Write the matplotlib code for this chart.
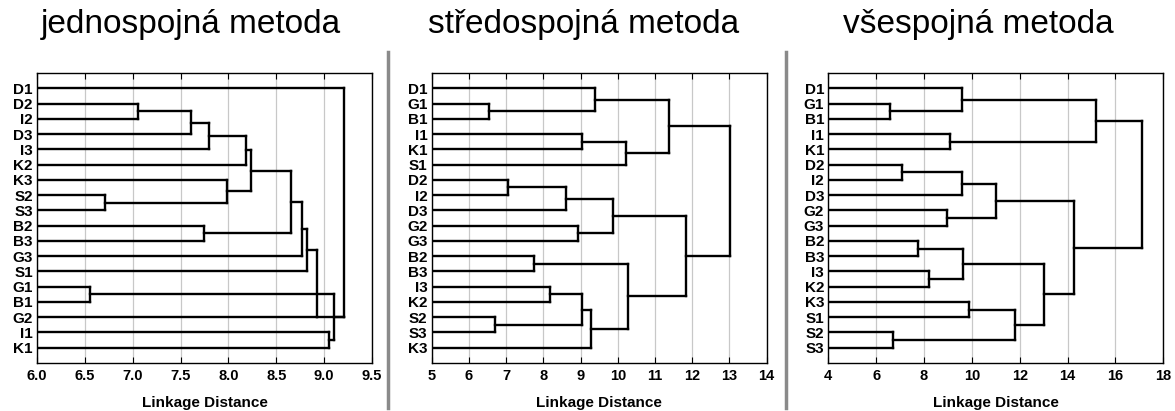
import matplotlib
matplotlib.use("Agg")
import matplotlib.pyplot as plt
from matplotlib.lines import Line2D

plt.rcParams["font.family"] = ["Liberation Sans", "DejaVu Sans"]

titles = ["jednospojná metoda", "středospojná metoda", "všespojná metoda"]

# leaf order (top to bottom) and merges: (child, child, ..., linkage distance)
# a child is a leaf name or the index of an earlier merge
leaves1 = ["D1", "D2", "I2", "D3", "I3", "K2", "K3", "S2", "S3",
           "B2", "B3", "G3", "S1", "G1", "B1", "G2", "I1", "K1"]
merges1 = [
    ("D2", "I2", 7.06),
    (0, "D3", 7.61),
    (1, "I3", 7.80),
    (2, "K2", 8.18),
    ("S2", "S3", 6.71),
    ("K3", 4, 7.99),
    (3, 5, 8.24),
    ("B2", "B3", 7.74),
    (6, 7, 8.65),
    (8, "G3", 8.77),
    (9, "S1", 8.82),
    (10, "G2", 8.93),
    ("G1", "B1", 6.55),
    ("I1", "K1", 9.05),
    (12, 13, 9.10),
    ("D1", 11, 14, 9.21),
]
low_stem1 = {11}   # merges whose stem leaves from the lower child

leaves2 = ["D1", "G1", "B1", "I1", "K1", "S1", "D2", "I2", "D3",
           "G2", "G3", "B2", "B3", "I3", "K2", "S2", "S3", "K3"]
merges2 = [
    ("G1", "B1", 6.54),
    ("D1", 0, 9.39),
    ("I1", "K1", 9.05),
    (2, "S1", 10.22),
    (1, 3, 11.38),
    ("D2", "I2", 7.06),
    (5, "D3", 8.60),
    ("G2", "G3", 8.94),
    (6, 7, 9.88),
    ("B2", "B3", 7.74),
    ("I3", "K2", 8.18),
    ("S2", "S3", 6.70),
    (10, 11, 9.03),
    (12, "K3", 9.28),
    (9, 13, 10.27),
    (8, 14, 11.82),
    (4, 15, 13.01),
]

leaves3 = ["D1", "G1", "B1", "I1", "K1", "D2", "I2", "D3", "G2",
           "G3", "B2", "B3", "I3", "K2", "K3", "S1", "S2", "S3"]
merges3 = [
    ("G1", "B1", 6.58),
    ("D1", 0, 9.60),
    ("I1", "K1", 9.08),
    (1, 2, 15.18),
    ("D2", "I2", 7.09),
    (4, "D3", 9.60),
    ("G2", "G3", 8.95),
    (5, 6, 11.01),
    ("B2", "B3", 7.76),
    ("I3", "K2", 8.21),
    (8, 9, 9.64),
    ("K3", "S1", 9.89),
    ("S2", "S3", 6.72),
    (11, 12, 11.80),
    (10, 13, 13.01),
    (7, 14, 14.26),
    (3, 15, 17.12),
]

xlims = [(6.0, 9.5), (5, 14), (4, 18)]
xticks = [[6.0, 6.5, 7.0, 7.5, 8.0, 8.5, 9.0, 9.5],
          list(range(5, 15)),
          list(range(4, 19, 2))]
xticklabels = [["%.1f" % v for v in xticks[0]],
               [str(v) for v in xticks[1]],
               [str(v) for v in xticks[2]]]

panels = [(leaves1, merges1, low_stem1), (leaves2, merges2, set()), (leaves3, merges3, set())]

fig = plt.figure(figsize=(11.75, 4.11), dpi=100)
lefts = [37 / 1175, 431.7 / 1175, 828.3 / 1175]
title_x = [190.5 / 1175, 584 / 1175, 978 / 1175]


def draw_tree(ax, leaves, merges, low_stem, x0):
    ypos = {name: i + 1 for i, name in enumerate(leaves)}
    xpos = {name: x0 for name in leaves}
    kw = dict(color="black", lw=1.7, solid_capstyle="projecting", zorder=3)
    for k, m in enumerate(merges):
        children, h = m[:-1], m[-1]
        ys = []
        for c in children:
            ax.plot([xpos[c], h], [ypos[c], ypos[c]], **kw)
            ys.append(ypos[c])
        ax.plot([h, h], [min(ys), max(ys)], **kw)
        ypos[k] = max(ys) if k in low_stem else (min(ys) + max(ys)) / 2
        xpos[k] = h


for i, (leaves, merges, low_stem) in enumerate(panels):
    ax = fig.add_axes([lefts[i], 0.1168, 335 / 1175, 0.7056])
    draw_tree(ax, leaves, merges, low_stem, xlims[i][0])
    ax.set_xlim(*xlims[i])
    ax.set_ylim(len(leaves) + 1, 0)
    ax.set_yticks(range(1, len(leaves) + 1))
    ax.set_yticklabels(leaves, fontweight="bold", fontsize=11)
    ax.set_xticks(xticks[i])
    ax.set_xticklabels(xticklabels[i], fontweight="bold", fontsize=10.5)
    ax.tick_params(axis="y", length=0, pad=3)
    ax.tick_params(axis="x", direction="in", length=4, width=0.8, top=True, pad=4)
    ax.grid(axis="x", color="#c8c8c8", lw=0.9, zorder=0)
    for s in ax.spines.values():
        s.set_linewidth(1.0)
    ax.set_xlabel("Linkage Distance", fontweight="bold", fontsize=11, labelpad=10)
    fig.text(title_x[i], 1 - 33 / 411, titles[i], ha="center", va="baseline", fontsize=24)

# grey separators between panels
for xs in [388, 786]:
    fig.add_artist(Line2D([xs / 1175, xs / 1175], [1 - 52 / 411, 1 - 408 / 411],
                          color="#8a8a8a", lw=2.5))

plt.savefig("out.png", dpi=100)
